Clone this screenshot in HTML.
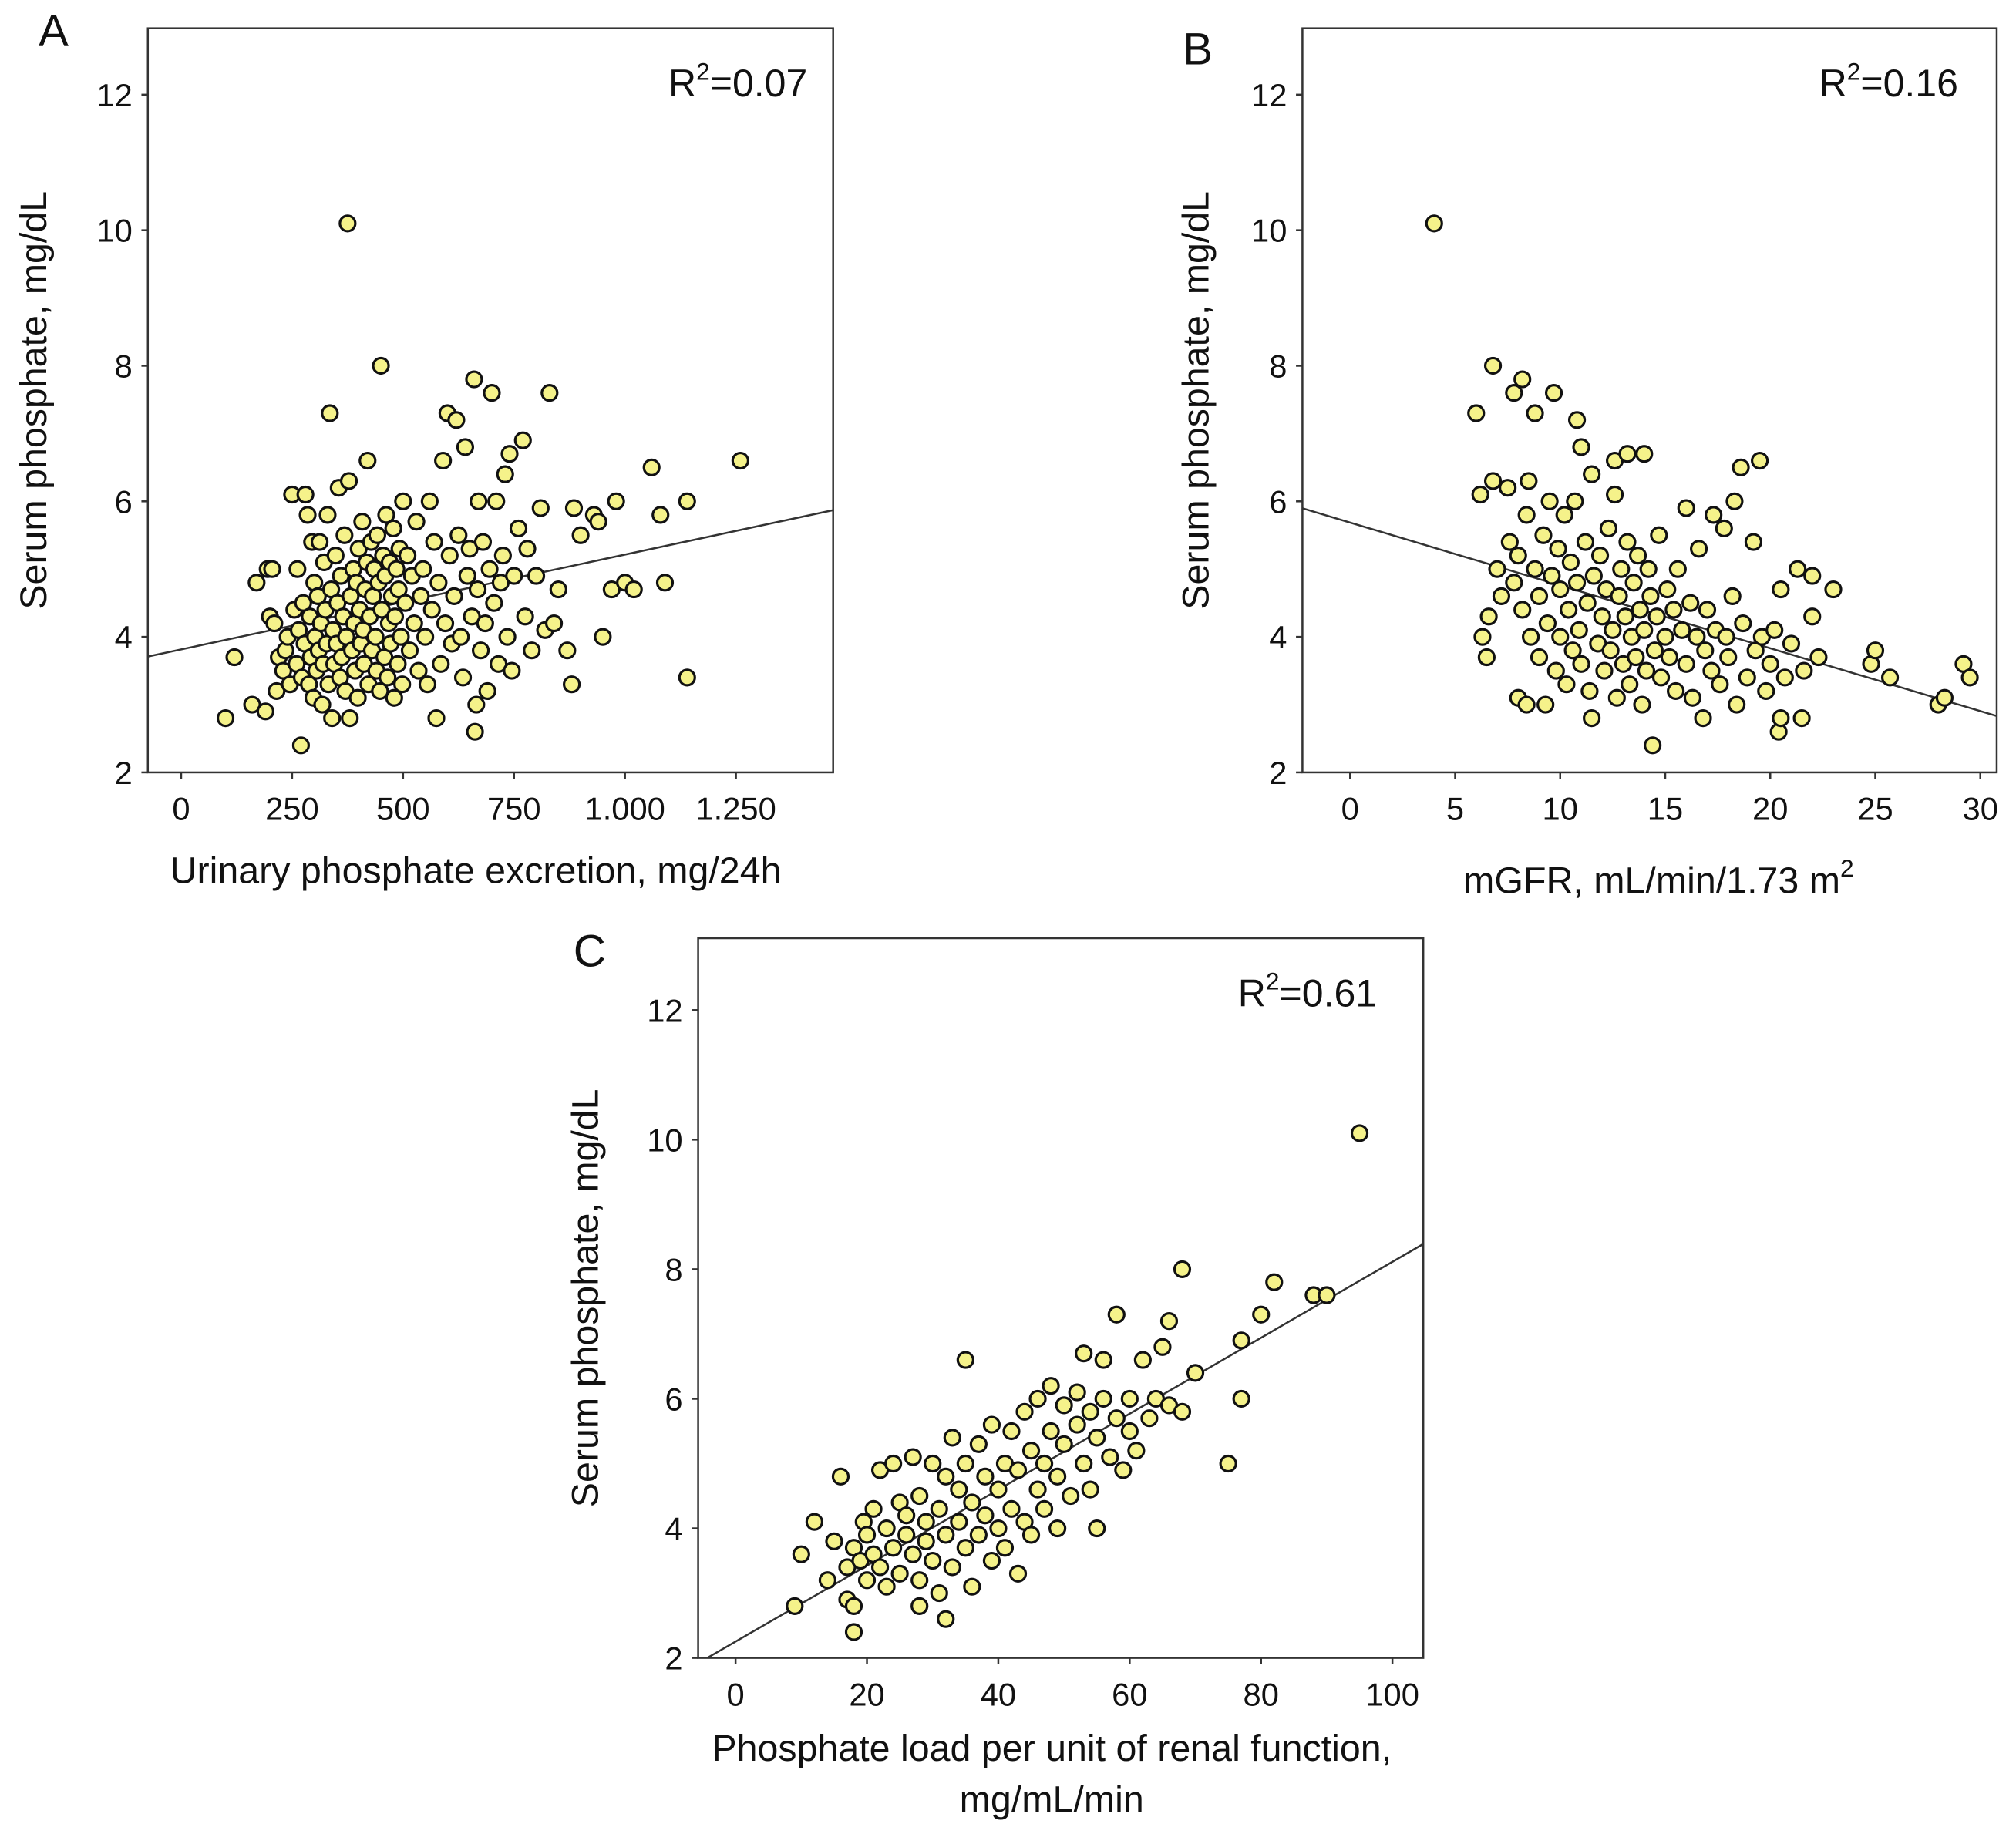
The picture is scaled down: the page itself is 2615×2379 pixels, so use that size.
<!DOCTYPE html>
<html><head><meta charset="utf-8"><style>
html,body{margin:0;padding:0;background:#fff}
svg{display:block}
text{font-family:"Liberation Sans",Arial,sans-serif;fill:#111}
</style></head><body>
<svg id="fig" width="2615" height="2379" viewBox="0 0 1568 1427" preserveAspectRatio="none" xmlns="http://www.w3.org/2000/svg">
<rect width="1568" height="1427" fill="#fff"/>
</svg>
<script>
const ticksYLabels = [2,4,6,8,10,12];
const aTicks = [0,250,500,750,1000,1250];
const aTickLabels = ["0","250","500","750","1.000","1.250"];
const bTicks = [0,5,10,15,20,25,30];
const cTicks = [0,20,40,60,80,100];
const aLine = [[-75,3.71],[1469,5.87]];
const bLine = [[-2.3,5.9],[30.8,2.83]];
const cLine = [[-4.3,2.0],[104.7,8.39]];
const aPoints = [[100,2.8],[120,3.7],[160,3.0],[170,4.8],[190,2.9],[195,5.0],[200,4.3],[205,5.0],[210,4.2],[215,3.2],[220,3.7],[230,3.5],[235,3.8],[240,4.0],[245,3.3],[250,6.1],[255,4.4],[260,3.6],[262,5.0],[265,4.1],[270,2.4],[272,3.4],[275,4.5],[278,3.9],[280,6.1],[285,5.8],[288,3.3],[290,4.3],[292,3.7],[295,5.4],[298,3.1],[300,4.8],[302,4.0],[305,3.5],[308,4.6],[310,3.8],[312,5.4],[315,4.2],[318,3.0],[320,3.6],[322,5.1],[325,4.4],[328,3.9],[330,5.8],[332,3.3],[335,7.3],[338,4.7],[340,2.8],[342,4.1],[345,3.6],[348,5.2],[350,3.9],[352,4.5],[355,6.2],[358,3.4],[360,4.9],[362,3.7],[365,4.3],[368,5.5],[370,3.2],[372,4.0],[375,10.1],[378,6.3],[380,2.8],[382,4.6],[385,3.8],[388,5.0],[390,4.2],[392,3.5],[395,4.8],[398,3.1],[400,5.3],[402,4.4],[405,3.9],[408,5.7],[410,4.1],[412,3.6],[415,4.7],[418,5.1],[420,6.6],[422,3.3],[425,4.3],[428,5.4],[430,3.8],[432,4.6],[435,5.0],[438,4.0],[440,3.5],[442,5.5],[445,4.8],[448,3.2],[450,8.0],[452,4.4],[455,5.2],[458,3.7],[460,4.9],[462,5.8],[465,3.4],[468,4.2],[470,5.1],[472,3.9],[475,4.6],[478,5.6],[480,3.1],[482,4.3],[485,5.0],[488,3.6],[490,4.7],[492,5.3],[495,4.0],[498,3.3],[500,6.0],[505,4.5],[510,5.2],[515,3.8],[520,4.9],[525,4.2],[530,5.7],[535,3.5],[540,4.6],[545,5.0],[550,4.0],[555,3.3],[560,6.0],[565,4.4],[570,5.4],[575,2.8],[580,4.8],[585,3.6],[590,6.6],[595,4.2],[600,7.3],[605,5.2],[610,3.9],[615,4.6],[620,7.2],[625,5.5],[630,4.0],[635,3.4],[640,6.8],[645,4.9],[650,5.3],[655,4.3],[660,7.8],[662,2.6],[665,3.0],[668,4.7],[670,6.0],[675,3.8],[680,5.4],[685,4.2],[690,3.2],[695,5.0],[700,7.6],[705,4.5],[710,6.0],[715,3.6],[720,4.8],[725,5.2],[730,6.4],[735,4.0],[740,6.7],[745,3.5],[750,4.9],[760,5.6],[770,6.9],[775,4.3],[780,5.3],[790,3.8],[800,4.9],[810,5.9],[820,4.1],[830,7.6],[840,4.2],[850,4.7],[870,3.8],[880,3.3],[885,5.9],[900,5.5],[930,5.8],[940,5.7],[950,4.0],[970,4.7],[980,6.0],[1000,4.8],[1020,4.7],[1060,6.5],[1080,5.8],[1090,4.8],[1140,6.0],[1140,3.4],[1260,6.6]];
const bPoints = [[4,10.1],[6,7.3],[6.2,6.1],[6.3,4.0],[6.5,3.7],[6.6,4.3],[6.8,8.0],[6.8,6.3],[7,5.0],[7.2,4.6],[7.5,6.2],[7.6,5.4],[7.8,7.6],[7.8,4.8],[8,3.1],[8,5.2],[8.2,7.8],[8.2,4.4],[8.4,3.0],[8.4,5.8],[8.5,6.3],[8.6,4.0],[8.8,7.3],[8.8,5.0],[9,3.7],[9,4.6],[9.2,5.5],[9.3,3.0],[9.4,4.2],[9.5,6.0],[9.6,4.9],[9.7,7.6],[9.8,3.5],[9.9,5.3],[10,4.0],[10,4.7],[10.2,5.8],[10.3,3.3],[10.4,4.4],[10.5,5.1],[10.6,3.8],[10.7,6.0],[10.8,7.2],[10.8,4.8],[10.9,4.1],[11,6.8],[11,3.6],[11.2,5.4],[11.3,4.5],[11.4,3.2],[11.5,6.4],[11.5,2.8],[11.6,4.9],[11.8,3.9],[11.9,5.2],[12,4.3],[12.1,3.5],[12.2,4.7],[12.3,5.6],[12.4,3.8],[12.5,4.1],[12.6,6.6],[12.6,6.1],[12.7,3.1],[12.8,4.6],[12.9,5.0],[13,3.6],[13.1,4.3],[13.2,6.7],[13.2,5.4],[13.3,3.3],[13.4,4.0],[13.5,4.8],[13.6,3.7],[13.7,5.2],[13.8,4.4],[13.9,3.0],[14,6.7],[14,4.1],[14.1,3.5],[14.2,5.0],[14.3,4.6],[14.4,2.4],[14.5,3.8],[14.6,4.3],[14.7,5.5],[14.8,3.4],[15,4.0],[15.1,4.7],[15.2,3.7],[15.4,4.4],[15.5,3.2],[15.6,5.0],[15.8,4.1],[16,5.9],[16,3.6],[16.2,4.5],[16.3,3.1],[16.5,4.0],[16.6,5.3],[16.8,2.8],[16.9,3.8],[17,4.4],[17.2,3.5],[17.3,5.8],[17.4,4.1],[17.6,3.3],[17.8,5.6],[17.9,4.0],[18,3.7],[18.2,4.6],[18.3,6.0],[18.4,3.0],[18.6,6.5],[18.7,4.2],[18.9,3.4],[19.2,5.4],[19.3,3.8],[19.5,6.6],[19.6,4.0],[19.8,3.2],[20,3.6],[20.2,4.1],[20.4,2.6],[20.5,2.8],[20.5,4.7],[20.7,3.4],[21,3.9],[21.3,5.0],[21.5,2.8],[21.6,3.5],[22,4.9],[22,4.3],[22.3,3.7],[23,4.7],[24.8,3.6],[25,3.8],[25.7,3.4],[28,3.0],[28.3,3.1],[29.2,3.6],[29.5,3.4]];
const cPoints = [[9,2.8],[10,3.6],[12,4.1],[14,3.2],[15,3.8],[16,4.8],[17,2.9],[17,3.4],[18,2.4],[18,2.8],[18,3.7],[19,3.5],[19.5,4.1],[20,3.2],[20,3.9],[21,4.3],[21,3.6],[22,4.9],[22,3.4],[23,4.0],[23,3.1],[24,5.0],[24,3.7],[25,4.4],[25,3.3],[26,3.9],[26,4.2],[27,5.1],[27,3.6],[28,2.8],[28,4.5],[28,3.2],[29,3.8],[29,4.1],[30,5.0],[30,3.5],[31,4.3],[31,3.0],[32,2.6],[32,4.8],[32,3.9],[33,5.4],[33,3.4],[34,4.1],[34,4.6],[35,6.6],[35,3.7],[35,5.0],[36,3.1],[36,4.4],[37,5.3],[37,3.9],[38,4.2],[38,4.8],[39,3.5],[39,5.6],[40,4.6],[40,4.0],[41,5.0],[41,3.7],[42,5.5],[42,4.3],[43,3.3],[43,4.9],[44,5.8],[44,4.1],[45,5.2],[45,3.9],[46,4.6],[46,6.0],[47,5.0],[47,4.3],[48,5.5],[48,6.2],[49,4.8],[49,4.0],[50,5.3],[50,5.9],[51,4.5],[52,5.6],[52,6.1],[53,6.7],[53,5.0],[54,4.6],[54,5.8],[55,4.0],[55,5.4],[56,6.0],[56,6.6],[57,5.1],[58,7.3],[58,5.7],[59,4.9],[60,5.5],[60,6.0],[61,5.2],[62,6.6],[63,5.7],[64,6.0],[65,6.8],[66,7.2],[66,5.9],[68,8.0],[68,5.8],[70,6.4],[75,5.0],[77,6.0],[77,6.9],[80,7.3],[82,7.8],[88,7.6],[90,7.6],[95,10.1]];

const NS="http://www.w3.org/2000/svg";
const svg=document.getElementById('fig');
function mk(tag,attrs,parent,txt){const e=document.createElementNS(NS,tag);for(const k in attrs)e.setAttribute(k,attrs[k]);if(txt!==undefined)e.textContent=txt;(parent||svg).appendChild(e);return e;}

function panel(o){
  const g=mk('g',{});
  
  
  const sx=v=>o.x0+(v-o.xmin)/(o.xmax-o.xmin)*(o.x1-o.x0);
  const sy=v=>o.y1-(v-o.ymin)/(o.ymax-o.ymin)*(o.y1-o.y0);
  const fr=mk('rect',{x:o.x0,y:o.y0,width:o.x1-o.x0,height:o.y1-o.y0,fill:'none',stroke:'#333','stroke-width':1.5},g);
  
  
  ticksYLabels.forEach(v=>{
    const y=sy(v);
    mk('line',{x1:o.x0-5,x2:o.x0,y1:y,y2:y,stroke:'#333','stroke-width':1.5},g);
    const t=mk('text',{x:o.x0-12,y:y+9,'text-anchor':'end','font-size':25},g,String(v));
    
    
  });
  o.xt.forEach((v,i)=>{
    const x=sx(v);
    mk('line',{x1:x,x2:x,y1:o.y1,y2:o.y1+5,stroke:'#333','stroke-width':1.5},g);
    const t=mk('text',{x:x,y:o.y1+37,'text-anchor':'middle','font-size':25},g,o.xl[i]);
    
    
  });
  const ln=mk('line',{x1:sx(o.line[0][0]),y1:sy(o.line[0][1]),x2:sx(o.line[1][0]),y2:sy(o.line[1][1]),stroke:'#333','stroke-width':1.5},g);
  
  
  o.pts.forEach(p=>{
    const c=mk('circle',{cx:sx(p[0]),cy:sy(p[1]),r:6,fill:'#f5f28a',stroke:'#111','stroke-width':1.9},g);
    
    
  });
  const r=mk('text',{x:o.rx,y:o.y0+53,'font-size':30,'text-anchor':'end'},g);
  
  
  mk('tspan',{},r,'R');
  mk('tspan',{dy:-13,'font-size':19},r,'2');
  mk('tspan',{dy:13},r,'=' + o.r2);
  const L=mk('text',{x:o.lx,y:o.ly,'font-size':35},g,o.id);
  
  
  const yc=(o.y0+o.y1)/2;
  const yt=mk('text',{x:o.ytx,y:yc,'font-size':29,'text-anchor':'middle',transform:`rotate(-90 ${o.ytx} ${yc})`},g,'Serum phosphate, mg/dL');
  
  
  return g;
}

const gA=panel({id:'A',x0:115,x1:648,y0:22,y1:601,xmin:-75,xmax:1469,ymin:2,ymax:12.98,xt:aTicks,xl:aTickLabels,line:aLine,pts:aPoints,r2:'0.07',rx:628,lx:30,ly:36,ytx:36});
const gB=panel({id:'B',x0:1013,x1:1553,y0:22,y1:601,xmin:-2.27,xmax:30.78,ymin:2,ymax:12.98,xt:bTicks,xl:bTicks.map(String),line:bLine,pts:bPoints,r2:'0.16',rx:1523,lx:920,ly:50,ytx:940});
const gC=panel({id:'C',x0:543,x1:1107,y0:730,y1:1290,xmin:-5.7,xmax:104.7,ymin:2,ymax:13.11,xt:cTicks,xl:cTicks.map(String),line:cLine,pts:cPoints,r2:'0.61',rx:1071,lx:446,ly:752,ytx:465});

let t=mk('text',{x:370,y:687,'font-size':29,'text-anchor':'middle'},gA,'Urinary phosphate excretion, mg/24h');


t=mk('text',{x:1290,y:695,'font-size':29,'text-anchor':'middle'},gB);


mk('tspan',{},t,'mGFR, mL/min/1.73 m');
mk('tspan',{dy:-13,'font-size':19},t,'2');
t=mk('text',{x:818,y:1370,'font-size':29,'text-anchor':'middle'},gC,'Phosphate load per unit of renal function,');


t=mk('text',{x:818,y:1410,'font-size':29,'text-anchor':'middle'},gC,'mg/mL/min');


</script>
</body></html>
